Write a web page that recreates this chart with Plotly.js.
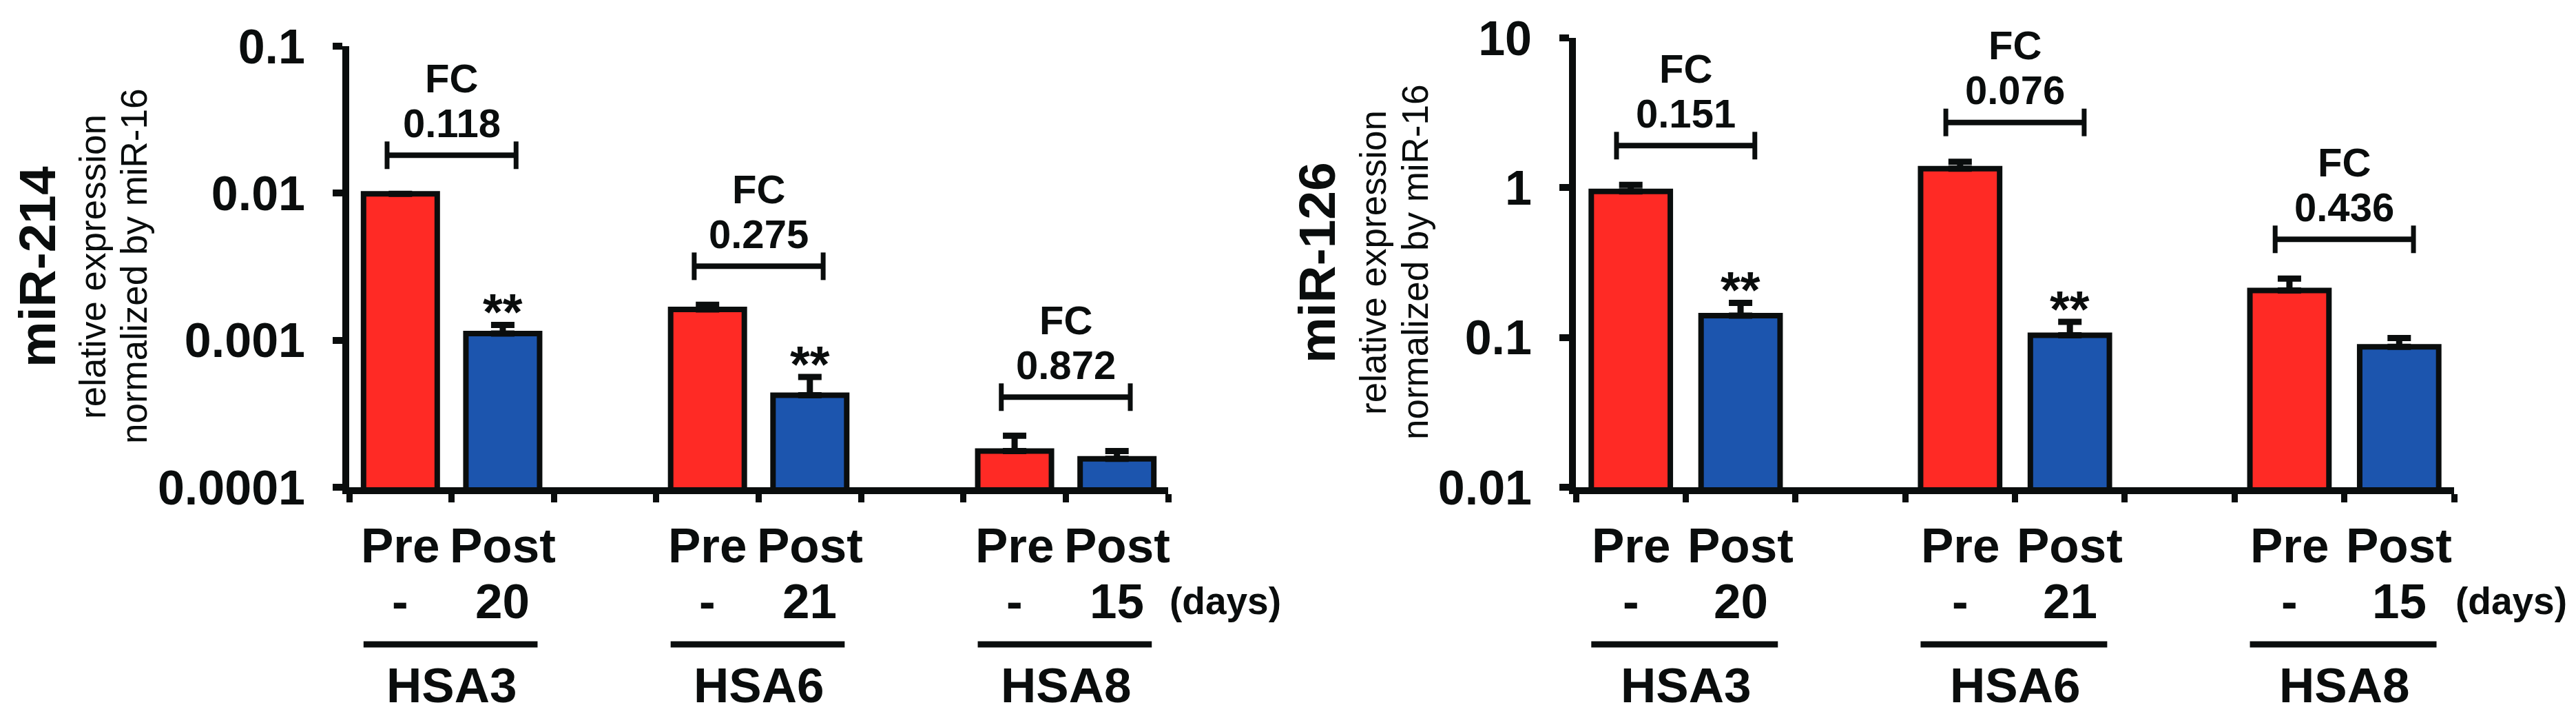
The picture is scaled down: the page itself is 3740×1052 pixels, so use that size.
<!DOCTYPE html>
<html>
<head>
<meta charset="utf-8">
<script src="https://cdn.plot.ly/plotly-3.0.1.min.js"></script>
<style>
  html, body { margin: 0; padding: 0; background: #fff; }
  #chart { width: 3740px; height: 1052px; }
</style>
</head>
<body>
<div id="chart"></div>
<script>
// values
const groups = ['HSA3', 'HSA6', 'HSA8'];
const days = ['20', '21', '15'];
const phaseLabels = ['Pre', 'Post'];

const mir214Pre = [0.0099, 0.00162, 0.000176];
const mir214PreErr = [0, 0.00012, 0.000048];
const mir214Post = [0.00111, 0.000422, 0.000156];
const mir214PostErr = [0.00016, 0.00014, 0.00002];
const mir214FC = ['0.118', '0.275', '0.872'];
const mir214Sig = ['**', '**', ''];

const mir126Pre = [0.943, 1.34, 0.206];
const mir126PreErr = [0.1, 0.15, 0.041];
const mir126Post = [0.140, 0.1035, 0.0867];
const mir126PostErr = [0.03, 0.0235, 0.0123];
const mir126FC = ['0.151', '0.076', '0.436'];
const mir126Sig = ['**', '**', ''];

const mir214Ticks = [0.0001, 0.001, 0.01, 0.1];
const mir214TickText = ['0.0001', '0.001', '0.01', '0.1'];
const mir126Ticks = [0.01, 0.1, 1, 10];
const mir126TickText = ['0.01', '0.1', '1', '10'];

const FONT = '"Liberation Sans", Arial, Helvetica, sans-serif';
const INK = '#0a0d0d';
const RED = '#ff2a25';
const BLUE = '#1c55ae';
const W = 3740, H = 1052;

const yDomL = [1 - 707 / H, 1 - 67 / H];
const yDomR = [1 - 707 / H, 1 - 55 / H];

// slot positions: Pre, Post, gap, Pre, Post, gap, Pre, Post
const preX = groups.map((g, i) => 3 * i + 1);
const postX = groups.map((g, i) => 3 * i + 2);
const boundaries = [];
for (let b = 0.5; b <= 8.5; b += 1) boundaries.push(b);

function barTrace(x, y, err, color, xa, ya) {
  return {
    type: 'bar', x: x, y: y, xaxis: xa, yaxis: ya, width: 0.72,
    marker: { color: color, line: { color: INK, width: 8 } },
    error_y: {
      type: 'data', array: err, arrayminus: err.map(() => 0), symmetric: false,
      color: INK, thickness: 9, width: 17
    },
    hoverinfo: 'skip', showlegend: false
  };
}

function panelDecor(pre, preErr, post, postErr, fc, sig, xr, yr, yDom, ticks, ann, shapes) {
  // bracket end caps are 20 px each way; turn that into a factor on the log axis
  const decades = Math.log10(ticks[ticks.length - 1]) - Math.log10(ticks[0]);
  const pxPerDecade = (yDom[1] - yDom[0]) * H / decades;
  const capK = Math.pow(10, 20 / pxPerDecade);
  const ydom = yr + ' domain';
  groups.forEach((g, i) => {
    const top = Math.max(pre[i] + preErr[i], post[i] + postErr[i]);
    const by = top * 1.83;
    const x0 = preX[i] - 0.13, x1 = postX[i] + 0.13;
    const cx = (preX[i] + postX[i]) / 2;
    // fold-change bracket
    shapes.push({ type: 'line', xref: xr, yref: yr, x0: x0, x1: x1, y0: by, y1: by,
      line: { color: INK, width: 8 } });
    [x0, x1].forEach(xx => shapes.push({ type: 'line', xref: xr, yref: yr,
      x0: xx, x1: xx, y0: by / capK, y1: by * capK,
      line: { color: INK, width: 7 } }));
    const textFont = { family: FONT, size: 58, color: INK, weight: 'bold' };
    ann.push({ xref: xr, yref: yr, x: cx, y: Math.log10(by), yshift: 47,
      text: fc[i], showarrow: false, yanchor: 'middle', font: textFont });
    ann.push({ xref: xr, yref: yr, x: cx, y: Math.log10(by), yshift: 112,
      text: 'FC', showarrow: false, yanchor: 'middle', font: textFont });
    if (sig[i]) {
      ann.push({ xref: xr, yref: yr, x: postX[i], y: Math.log10(post[i] + postErr[i]),
        yshift: 19, text: sig[i], showarrow: false, yanchor: 'middle',
        font: { family: FONT, size: 74, color: INK, weight: 'bold' } });
    }
    // category labels under the axis
    const labFont = { family: FONT, size: 71, color: INK, weight: 'bold' };
    ann.push({ xref: xr, yref: ydom, x: preX[i], y: 0, yshift: -84, text: phaseLabels[0],
      showarrow: false, yanchor: 'middle', font: labFont });
    ann.push({ xref: xr, yref: ydom, x: postX[i], y: 0, yshift: -84, text: phaseLabels[1],
      showarrow: false, yanchor: 'middle', font: labFont });
    ann.push({ xref: xr, yref: ydom, x: preX[i], y: 0, yshift: -165, text: '-',
      showarrow: false, yanchor: 'middle', font: labFont });
    ann.push({ xref: xr, yref: ydom, x: postX[i], y: 0, yshift: -165, text: days[i],
      showarrow: false, yanchor: 'middle', font: labFont });
    ann.push({ xref: xr, yref: ydom, x: cx, y: 0, yshift: -287, text: g,
      showarrow: false, yanchor: 'middle', font: labFont });
    shapes.push({ type: 'line', xref: xr, yref: ydom, ysizemode: 'pixel', yanchor: 0,
      x0: preX[i] - 0.36, x1: postX[i] + 0.34, y0: -228, y1: -228,
      line: { color: INK, width: 9 } });
  });
  ann.push({ xref: xr + ' domain', yref: ydom, x: 1, y: 0, yshift: -165,
    xanchor: 'left', text: '(days)', showarrow: false, yanchor: 'middle',
    font: { family: FONT, size: 55, color: INK, weight: 'bold' } });
}

function yTitles(name, xTitle, xRel, xNorm, yDomMid, ann) {
  ann.push({ xref: 'paper', yref: 'paper', x: xTitle / W, y: yDomMid, textangle: -90,
    text: name, showarrow: false, xanchor: 'center', yanchor: 'middle',
    font: { family: FONT, size: 75, color: INK, weight: 'bold' } });
  ann.push({ xref: 'paper', yref: 'paper', x: xRel / W, y: yDomMid, textangle: -90,
    text: 'relative expression', showarrow: false, xanchor: 'center', yanchor: 'middle',
    font: { family: FONT, size: 53, color: INK } });
  ann.push({ xref: 'paper', yref: 'paper', x: xNorm / W, y: yDomMid, textangle: -90,
    text: 'normalized by miR-16', showarrow: false, xanchor: 'center', yanchor: 'middle',
    font: { family: FONT, size: 53, color: INK } });
}

const traces = [
  barTrace(preX, mir214Pre, mir214PreErr, RED, 'x', 'y'),
  barTrace(postX, mir214Post, mir214PostErr, BLUE, 'x', 'y'),
  barTrace(preX, mir126Pre, mir126PreErr, RED, 'x2', 'y2'),
  barTrace(postX, mir126Post, mir126PostErr, BLUE, 'x2', 'y2')
];

const annotations = [];
const shapes = [];
panelDecor(mir214Pre, mir214PreErr, mir214Post, mir214PostErr, mir214FC, mir214Sig,
  'x', 'y', yDomL, mir214Ticks, annotations, shapes);
panelDecor(mir126Pre, mir126PreErr, mir126Post, mir126PostErr, mir126FC, mir126Sig,
  'x2', 'y2', yDomR, mir126Ticks, annotations, shapes);

yTitles('miR-214', 54, 134, 194, (yDomL[0] + yDomL[1]) / 2, annotations);
yTitles('miR-126', 1912, 1993, 2054, (yDomR[0] + yDomR[1]) / 2, annotations);

function xAxis(domain, anchor) {
  return {
    domain: domain, anchor: anchor, range: [0.5, 8.5], fixedrange: true,
    tickmode: 'array', tickvals: boundaries, showticklabels: false,
    ticks: 'outside', ticklen: 12, tickwidth: 9, tickcolor: INK,
    showline: true, linecolor: INK, linewidth: 10, showgrid: false, zeroline: false
  };
}
function yAxis(domain, anchor, ticks, text) {
  return {
    domain: domain, anchor: anchor, type: 'log', fixedrange: true,
    range: [Math.log10(ticks[0]), Math.log10(ticks[ticks.length - 1])],
    tickmode: 'array', tickvals: ticks, ticktext: text,
    ticks: 'outside', ticklen: 14, tickwidth: 10, tickcolor: INK,
    tickfont: { family: FONT, size: 70, color: INK, weight: 'bold' },
    ticklabelstandoff: 26,
    showline: true, linecolor: INK, linewidth: 10, showgrid: false, zeroline: false
  };
}

const layout = {
  width: W, height: H,
  margin: { l: 0, r: 0, t: 0, b: 0 },
  paper_bgcolor: '#ffffff', plot_bgcolor: '#ffffff',
  bargap: 0,
  xaxis: xAxis([507 / W, 1696 / W], 'y'),
  yaxis: yAxis(yDomL, 'x', mir214Ticks, mir214TickText),
  xaxis2: xAxis([2288 / W, 3563 / W], 'y2'),
  yaxis2: yAxis(yDomR, 'x2', mir126Ticks, mir126TickText),
  annotations: annotations,
  shapes: shapes
};

Plotly.newPlot('chart', traces, layout, { displayModeBar: false, staticPlot: true });
</script>
</body>
</html>
